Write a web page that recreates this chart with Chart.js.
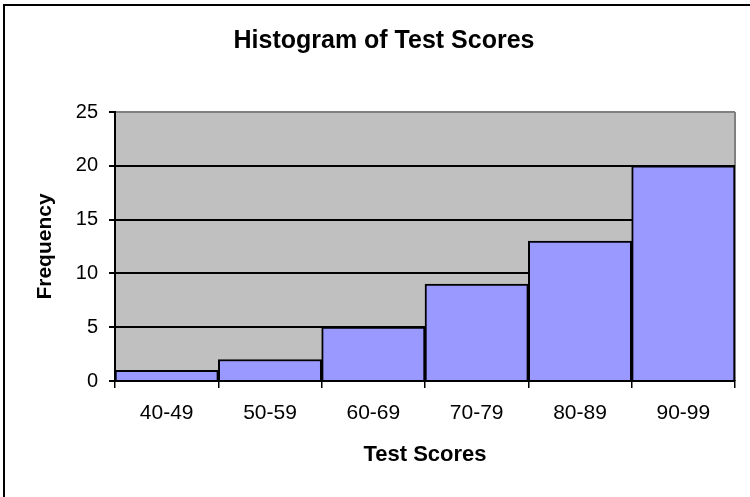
<!DOCTYPE html>
<html>
<head>
<meta charset="utf-8">
<script src="https://cdn.jsdelivr.net/npm/chart.js@4/dist/chart.umd.min.js"></script>
<style>
    body { margin: 0; background: #fff; }
    canvas { display: block; }
</style>
</head>
<body>
<canvas id="histChart" width="750" height="497"></canvas>
<script>
// Test score bins and how many students fell in each
const scoreBins = ["40-49", "50-59", "60-69", "70-79", "80-89", "90-99"];
const frequencies = [1, 2, 5, 9, 13, 20];
const yTicks = [0, 5, 10, 15, 20, 25];

const fontFamily = "'Liberation Sans', Arial, sans-serif";

// gray plot background, gray right edge and the outer frame
const framePlugin = {
    id: "frame",
    beforeDraw(chart) {
        const ctx = chart.ctx;
        const a = chart.chartArea;
        ctx.save();
        ctx.fillStyle = "#ffffff";
        ctx.fillRect(0, 0, chart.width, chart.height);
        ctx.fillStyle = "#c0c0c0";
        ctx.fillRect(a.left, a.top, a.right - a.left, a.bottom - a.top);
        ctx.strokeStyle = "#808080";
        ctx.lineWidth = 2;
        ctx.beginPath();
        ctx.moveTo(a.right, a.top);
        ctx.lineTo(a.right, a.bottom);
        ctx.stroke();
        ctx.fillStyle = "#000000";
        ctx.fillRect(3, 4, chart.width - 3, 2);
        ctx.fillRect(3, 4, 2, chart.height - 4);
        ctx.restore();
    },
};

document.addEventListener("DOMContentLoaded", function () {
    const ctx = document.getElementById("histChart").getContext("2d");

    const histChart = new Chart(ctx, {
        type: "bar",
        data: {
            labels: scoreBins,
            datasets: [
                {
                    label: "Frequency",
                    data: frequencies,
                    backgroundColor: "#9999ff",
                    borderColor: "#000000",
                    borderWidth: 2,
                    barPercentage: 1,
                    categoryPercentage: 1,
                },
            ],
        },
        options: {
            responsive: false,
            animation: false,
            layout: { padding: { left: 33, right: 15, top: 0, bottom: 0 } },
            plugins: {
                legend: { display: false },
                tooltip: { enabled: false },
                title: {
                    display: true,
                    text: "Histogram of Test Scores",
                    color: "#000000",
                    font: { family: fontFamily, size: 25, weight: "bold" },
                    padding: { top: 26, bottom: 56 },
                },
            },
            scales: {
                x: {
                    afterFit: function (scale) { scale.height = 116; },
                    grid: {
                        offset: true,
                        drawOnChartArea: false,
                        color: "#000000",
                        tickLength: 7,
                        lineWidth: 1.5,
                    },
                    border: { color: "#000000", width: 2 },
                    ticks: {
                        color: "#000000",
                        padding: 13,
                        font: { family: fontFamily, size: 21 },
                    },
                    title: {
                        display: true,
                        text: "Test Scores",
                        color: "#000000",
                        font: { family: fontFamily, size: 22, weight: "bold" },
                        padding: { top: 0, bottom: 29 },
                    },
                },
                y: {
                    min: yTicks[0],
                    max: yTicks[yTicks.length - 1],
                    afterFit: function (scale) { scale.width = 82; },
                    afterBuildTicks: function (scale) {
                        scale.ticks = yTicks.map(function (v) { return { value: v }; });
                    },
                    grid: {
                        color: function (c) {
                            return c.tick && c.tick.value === 25 ? "#808080" : "#000000";
                        },
                        tickColor: "#000000",
                        tickLength: 6,
                        lineWidth: 2,
                    },
                    border: { color: "#000000", width: 2 },
                    ticks: {
                        color: "#000000",
                        padding: 11,
                        font: { family: fontFamily, size: 20 },
                    },
                    title: {
                        display: true,
                        text: "Frequency",
                        color: "#000000",
                        font: { family: fontFamily, size: 21, weight: "bold" },
                        padding: { top: 0, bottom: 0 },
                    },
                },
            },
        },
        plugins: [framePlugin],
    });
});
</script>
</body>
</html>
